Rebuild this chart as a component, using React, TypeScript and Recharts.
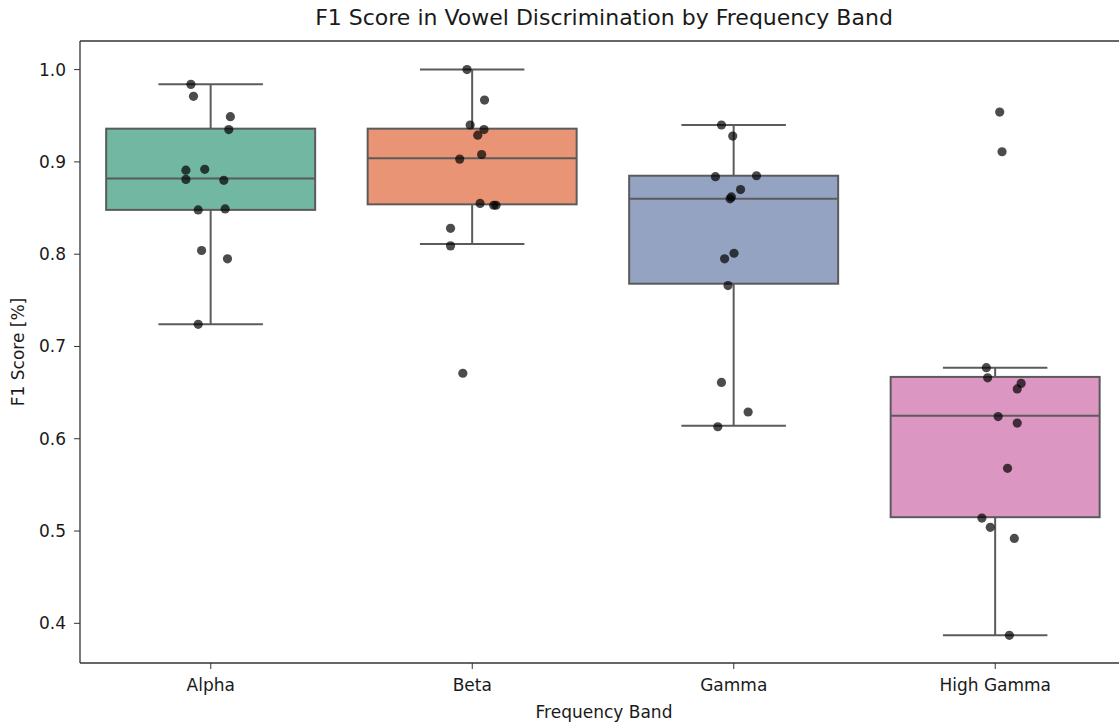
import React from 'react';
import { ComposedChart, Bar, Scatter, XAxis, YAxis, ReferenceLine } from 'recharts';

// ---- data ----
const categories = ['Alpha', 'Beta', 'Gamma', 'High Gamma'];
const whiskerLow = [0.724, 0.811, 0.614, 0.387];
const q1 = [0.848, 0.854, 0.768, 0.515];
const median = [0.882, 0.904, 0.86, 0.625];
const q3 = [0.936, 0.936, 0.885, 0.667];
const whiskerHigh = [0.984, 1.0, 0.94, 0.677];

const alphaScores = [0.984, 0.971, 0.949, 0.935, 0.891, 0.892, 0.881, 0.88, 0.848, 0.849, 0.804, 0.795, 0.724];
const alphaJitter = [-0.076, -0.066, 0.075, 0.069, -0.095, -0.023, -0.095, 0.05, -0.048, 0.055, -0.035, 0.064, -0.048];
const betaScores = [1.0, 0.967, 0.94, 0.935, 0.929, 0.908, 0.903, 0.855, 0.853, 0.853, 0.828, 0.809, 0.671];
const betaJitter = [-0.02, 0.047, -0.008, 0.045, 0.021, 0.036, -0.048, 0.03, 0.082, 0.091, -0.083, -0.083, -0.036];
const gammaScores = [0.94, 0.928, 0.884, 0.885, 0.87, 0.862, 0.86, 0.801, 0.795, 0.766, 0.661, 0.629, 0.613];
const gammaJitter = [-0.047, -0.004, -0.07, 0.087, 0.026, -0.009, -0.014, 0.001, -0.035, -0.022, -0.047, 0.055, -0.061];
const highGammaScores = [0.954, 0.911, 0.677, 0.666, 0.66, 0.654, 0.624, 0.617, 0.568, 0.514, 0.504, 0.492, 0.387];
const highGammaJitter = [0.017, 0.026, -0.034, -0.029, 0.099, 0.084, 0.011, 0.084, 0.047, -0.051, -0.019, 0.073, 0.054];

const yTicks = [0.4, 0.5, 0.6, 0.7, 0.8, 0.9, 1.0];
const yDomain: [number, number] = [0.357, 1.031];

// ---- style ----
const boxColors = ['#71b7a1', '#e99575', '#95a3c3', '#db96c1'];
const lineColor = '#5b5b5b';
const FONT = '"DejaVu Sans", sans-serif';

const boxData = categories.map((name, i) => ({
  name,
  range: [whiskerLow[i], whiskerHigh[i]],
  lo: whiskerLow[i],
  hi: whiskerHigh[i],
  q1: q1[i],
  med: median[i],
  q3: q3[i],
  color: boxColors[i],
}));

const groups = [
  [alphaScores, alphaJitter],
  [betaScores, betaJitter],
  [gammaScores, gammaJitter],
  [highGammaScores, highGammaJitter],
];
const points = groups.flatMap(([scores, jit], i) =>
  scores.map((v, j) => ({ x: i + jit[j], y: v }))
);

const BoxShape = (props: any) => {
  const { x, y, width, height } = props;
  const p = props.payload ?? props;
  const top = Math.min(y, y + height);
  const h = Math.abs(height);
  const py = (v: number) => top + ((p.hi - v) / (p.hi - p.lo)) * h;
  const cx = x + width / 2;
  const capHalf = width / 4;
  const yQ1 = py(p.q1);
  const yQ3 = py(p.q3);
  const yMed = py(p.med);
  return (
    <g>
      <line x1={cx} x2={cx} y1={py(p.hi)} y2={yQ3} stroke={lineColor} strokeWidth={2} />
      <line x1={cx} x2={cx} y1={yQ1} y2={py(p.lo)} stroke={lineColor} strokeWidth={2} />
      <line x1={cx - capHalf} x2={cx + capHalf} y1={py(p.hi)} y2={py(p.hi)} stroke={lineColor} strokeWidth={2} />
      <line x1={cx - capHalf} x2={cx + capHalf} y1={py(p.lo)} y2={py(p.lo)} stroke={lineColor} strokeWidth={2} />
      <rect x={x} y={yQ3} width={width} height={yQ1 - yQ3} fill={p.color} stroke={lineColor} strokeWidth={2} />
      <line x1={x} x2={x + width} y1={yMed} y2={yMed} stroke={lineColor} strokeWidth={2} />
    </g>
  );
};

const Dot = (props: any) => {
  const { cx, cy } = props;
  return <circle cx={cx} cy={cy} r={4.6} fill="#000" fillOpacity={0.7} />;
};

export default function App() {
  return (
    <div style={{ position: 'absolute', left: 0, top: 0, width: 1119, height: 724, overflow: 'hidden', background: '#fff', fontFamily: FONT }}>
      <div style={{ position: 'absolute', left: 0, top: 6, width: 1208, textAlign: 'center', fontSize: 22, lineHeight: '24px', color: '#1a1a1a' }}>
        F1 Score in Vowel Discrimination by Frequency Band
      </div>
      <div style={{ position: 'absolute', left: 18 - 100, top: 352 - 11, width: 200, height: 22, lineHeight: '22px', textAlign: 'center', fontSize: 17, color: '#1a1a1a', transform: 'rotate(-90deg)' }}>
        F1 Score [%]
      </div>
      <div style={{ position: 'absolute', left: 0, top: 701, width: 1208, textAlign: 'center', fontSize: 17, lineHeight: '22px', color: '#1a1a1a' }}>
        Frequency Band
      </div>
      <div style={{ position: 'absolute', left: 0, top: 0 }}>
        <ComposedChart width={1140} height={724} data={boxData} margin={{ top: 41, right: 14, bottom: 31, left: 0 }} barCategoryGap="10%">
          <XAxis
            xAxisId="cat"
            dataKey="name"
            type="category"
            height={30}
            tickSize={6}
            tickMargin={10}
            axisLine={{ stroke: '#333', strokeWidth: 1.3 }}
            tickLine={{ stroke: '#333' }}
            tick={{ fontSize: 17, fill: '#1a1a1a', fontFamily: FONT }}
          />
          <XAxis xAxisId="jit" dataKey="x" type="number" domain={[-0.5, 3.5]} allowDataOverflow hide />
          <YAxis
            yAxisId="main"
            type="number"
            domain={yDomain}
            allowDataOverflow
            ticks={yTicks}
            width={80}
            tickSize={6}
            tickMargin={8}
            tickFormatter={(v: number) => v.toFixed(1)}
            axisLine={{ stroke: '#333', strokeWidth: 1.3 }}
            tickLine={{ stroke: '#333' }}
            tick={{ fontSize: 17, fill: '#1a1a1a', fontFamily: FONT }}
          />
          <YAxis yAxisId="pts" dataKey="y" type="number" domain={yDomain} allowDataOverflow hide />
          <ReferenceLine xAxisId="cat" yAxisId="main" y={yDomain[1]} stroke="#333" strokeWidth={1.3} />
          <Bar xAxisId="cat" yAxisId="main" dataKey="range" shape={<BoxShape />} isAnimationActive={false} />
          <Scatter xAxisId="jit" yAxisId="pts" data={points} dataKey="y" shape={<Dot />} isAnimationActive={false} />
        </ComposedChart>
      </div>
    </div>
  );
}
